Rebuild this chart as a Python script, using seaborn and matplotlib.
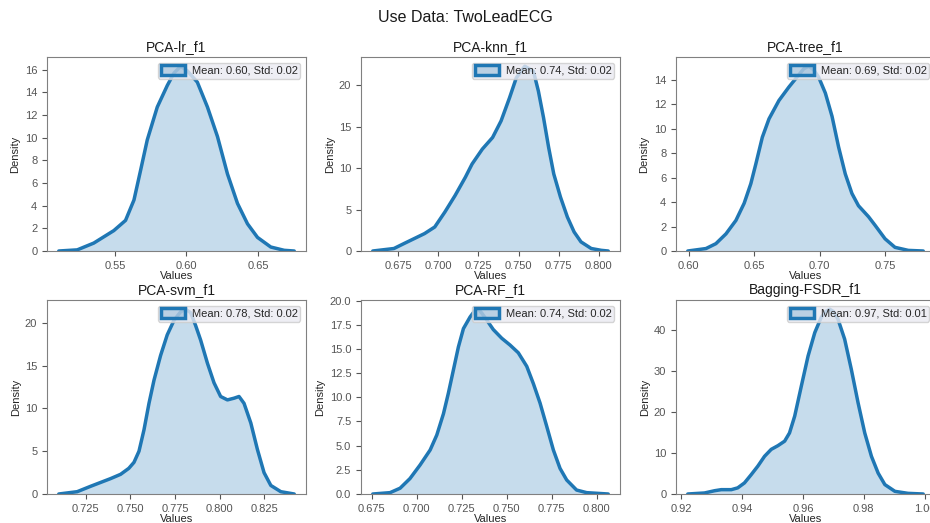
import matplotlib
matplotlib.use("Agg")
import matplotlib.pyplot as plt
from matplotlib.patches import Patch
from matplotlib.colors import to_rgba
from matplotlib.ticker import MaxNLocator
import seaborn as sns

# ---- data ----
titles = ["PCA-lr_f1", "PCA-knn_f1", "PCA-tree_f1",
          "PCA-svm_f1", "PCA-RF_f1", "Bagging-FSDR_f1"]
means = [0.60, 0.74, 0.69, 0.78, 0.74, 0.97]
stds = [0.02, 0.02, 0.02, 0.02, 0.02, 0.01]

x_lr = [0.5107, 0.5236, 0.5352, 0.5492, 0.5574, 0.5633, 0.5679, 0.5726, 0.5796,
        0.5866, 0.5913, 0.5960, 0.6006, 0.6076, 0.6147, 0.6217, 0.6287, 0.6357,
        0.6427, 0.6497, 0.6590, 0.6684, 0.6754]
d_lr = [0, 0.1, 0.7, 1.8, 2.7, 4.5, 7.1, 9.8, 12.7, 14.6, 15.7, 16.3, 15.9, 14.9,
        12.7, 10.1, 6.8, 4.2, 2.4, 1.2, 0.35, 0.06, 0]

x_knn = [0.6590, 0.6722, 0.6785, 0.6849, 0.6913, 0.6977, 0.7040, 0.7104, 0.7168,
         0.7210, 0.7274, 0.7338, 0.7391, 0.7444, 0.7486, 0.7539, 0.7593, 0.7624,
         0.7656, 0.7688, 0.7720, 0.7762, 0.7805, 0.7847, 0.7890, 0.7954, 0.8017,
         0.8060]
d_knn = [0, 0.3, 0.9, 1.5, 2.1, 2.9, 4.7, 6.7, 8.9, 10.5, 12.3, 13.7, 15.7, 18.5,
         20.9, 22.3, 21.7, 19.3, 16.1, 12.5, 9.3, 6.5, 4.1, 2.3, 1.1, 0.3, 0.08, 0]

x_tree = [0.5992, 0.6131, 0.6207, 0.6284, 0.6360, 0.6423, 0.6474, 0.6512, 0.6562,
          0.6613, 0.6689, 0.6765, 0.6841, 0.6879, 0.6917, 0.6955, 0.6993, 0.7044,
          0.7095, 0.7145, 0.7196, 0.7247, 0.7297, 0.7374, 0.7424, 0.7500, 0.7576,
          0.7678, 0.7792]
d_tree = [0, 0.2, 0.6, 1.4, 2.5, 3.9, 5.5, 7.1, 9.3, 10.8, 12.3, 13.4, 14.4, 14.9,
          15.1, 14.8, 14.2, 12.9, 11.0, 8.5, 6.3, 4.7, 3.7, 2.8, 2.1, 1.0, 0.3,
          0.05, 0]

x_svm = [0.7100, 0.7203, 0.7278, 0.7334, 0.7390, 0.7446, 0.7492, 0.7521, 0.7549,
         0.7577, 0.7605, 0.7633, 0.7670, 0.7707, 0.7745, 0.7782, 0.7810, 0.7838,
         0.7866, 0.7894, 0.7932, 0.7969, 0.8006, 0.8044, 0.8081, 0.8109, 0.8137,
         0.8175, 0.8212, 0.8249, 0.8287, 0.8343, 0.8418]
d_svm = [0, 0.27, 0.9, 1.35, 1.8, 2.3, 3.0, 3.7, 5.0, 7.5, 10.6, 13.3, 16.2, 18.6,
         20.3, 21.3, 21.6, 21.2, 19.7, 18.0, 15.3, 13.0, 11.4, 11.0, 11.2, 11.4,
         10.6, 8.3, 5.2, 2.5, 1.0, 0.27, 0]

x_rf = [0.6756, 0.6852, 0.6908, 0.6963, 0.7019, 0.7075, 0.7112, 0.7149, 0.7176,
        0.7204, 0.7232, 0.7260, 0.7297, 0.7325, 0.7343, 0.7362, 0.7389, 0.7426,
        0.7473, 0.7519, 0.7565, 0.7612, 0.7649, 0.7686, 0.7723, 0.7760, 0.7797,
        0.7834, 0.7889, 0.7945, 0.8065]
d_rf = [0, 0.14, 0.6, 1.6, 3.0, 4.55, 6.1, 8.3, 10.4, 12.8, 15.2, 17.1, 18.3, 19.0,
        19.1, 18.7, 18.0, 17.0, 16.1, 15.4, 14.6, 13.2, 11.4, 9.4, 7.0, 4.55, 2.65,
        1.45, 0.41, 0.14, 0]

x_bag = [0.9222, 0.9277, 0.9310, 0.9332, 0.9365, 0.9386, 0.9408, 0.9430, 0.9452,
         0.9474, 0.9496, 0.9518, 0.9540, 0.9556, 0.9573, 0.9595, 0.9617, 0.9639,
         0.9660, 0.9674, 0.9688, 0.9701, 0.9715, 0.9737, 0.9759, 0.9781, 0.9803,
         0.9825, 0.9847, 0.9869, 0.9902, 0.9945, 0.9995]
d_bag = [0, 0.25, 0.8, 1.06, 1.06, 1.5, 2.7, 4.7, 6.8, 9.2, 10.9, 11.8, 12.9, 14.9,
         19.0, 26.4, 33.7, 39.4, 43.1, 44.5, 45.1, 44.5, 42.7, 37.8, 30.4, 22.3,
         14.9, 9.2, 5.1, 2.3, 0.65, 0.16, 0]

curves = [(x_lr, d_lr), (x_knn, d_knn), (x_tree, d_tree),
          (x_svm, d_svm), (x_rf, d_rf), (x_bag, d_bag)]

# ---- style ----
sns.set_style("ticks", rc={
    "axes.edgecolor": "#808080",
    "axes.linewidth": 1.0,
    "xtick.color": "#555555",
    "ytick.color": "#555555",
    "xtick.labelcolor": "#262626",
    "ytick.labelcolor": "#262626",
    "xtick.major.size": 3.0,
    "ytick.major.size": 3.0,
    "xtick.major.pad": 2.0,
    "ytick.major.pad": 2.0,
    "xtick.major.width": 0.8,
    "ytick.major.width": 0.8,
})
plt.rcParams["font.family"] = ["Liberation Sans", "DejaVu Sans"]
plt.rcParams["xtick.labelsize"] = 8
plt.rcParams["ytick.labelsize"] = 8
plt.rcParams["axes.labelsize"] = 8
plt.rcParams["axes.labelcolor"] = "#262626"

color = "#1f77b4"
W, H = 930, 523
fig = plt.figure(figsize=(W / 100, H / 100), dpi=100)

lefts = [47, 361, 676]
tops = [57, 300]
aw, ah = 259, 194

for i, ((xs, ds), title, m, s) in enumerate(zip(curves, titles, means, stds)):
    r, c = divmod(i, 3)
    ax = fig.add_axes([lefts[c] / W, 1 - (tops[r] + ah) / H, aw / W, ah / H])
    ax.fill_between(xs, ds, color=color, alpha=0.25, linewidth=0)
    sns.lineplot(x=xs, y=ds, ax=ax, color=color, linewidth=2.5,
                 estimator=None, sort=False)
    ax.set_ylim(0, max(ds) * 1.05)
    ax.yaxis.set_major_locator(MaxNLocator(nbins=9, steps=[1, 2, 2.5, 5, 10]))
    ax.set_title(title, fontsize=10, pad=4, color="#1a1a1a")
    ax.set_xlabel("Values", labelpad=0)
    ax.set_ylabel("Density", labelpad=3)
    handle = Patch(facecolor=to_rgba(color, 0.25), edgecolor=color, linewidth=2.5)
    ax.legend([handle], [f"Mean: {m:.2f}, Std: {s:.2f}"], loc="upper right",
              fontsize=8, facecolor="#EAEAF2", edgecolor="#cccccc",
              framealpha=0.8, borderpad=0.25, handletextpad=0.6,
              handlelength=2.2, handleheight=0.9)

fig.suptitle("Use Data: TwoLeadECG", fontsize=11.5, y=1 - 18 / H, va="center",
             color="#1a1a1a")
fig.savefig("out.png", dpi=100)
